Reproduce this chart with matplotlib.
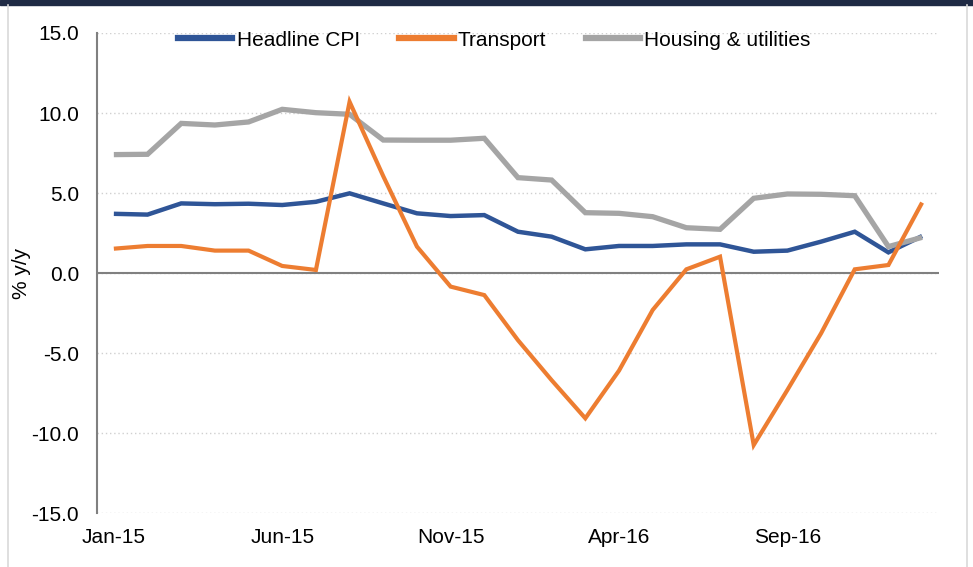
import matplotlib.pyplot as plt
import numpy as np
from matplotlib.patches import Rectangle
from matplotlib.lines import Line2D

plt.rcParams['font.family'] = ['Liberation Sans', 'DejaVu Sans']

months = ["Jan-15", "Feb-15", "Mar-15", "Apr-15", "May-15", "Jun-15", "Jul-15", "Aug-15",
          "Sep-15", "Oct-15", "Nov-15", "Dec-15", "Jan-16", "Feb-16", "Mar-16", "Apr-16",
          "May-16", "Jun-16", "Jul-16", "Aug-16", "Sep-16", "Oct-16", "Nov-16", "Dec-16",
          "Jan-17"]

headline = [3.7, 3.65, 4.35, 4.3, 4.33, 4.25, 4.45, 4.98, 4.35, 3.73, 3.56, 3.62,
            2.58, 2.27, 1.48, 1.69, 1.69, 1.79, 1.79, 1.33, 1.4, 1.96, 2.58, 1.29, 2.31]
transport = [1.52, 1.69, 1.69, 1.4, 1.4, 0.44, 0.19, 10.7, 6.05, 1.65, -0.85, -1.38,
             -4.2, -6.7, -9.08, -6.1, -2.31, 0.23, 1.02, -10.75, -7.31, -3.77, 0.23, 0.5, 4.4]
housing = [7.4, 7.42, 9.35, 9.25, 9.44, 10.23, 10.02, 9.92, 8.31, 8.3, 8.3, 8.42,
           5.96, 5.81, 3.77, 3.73, 3.52, 2.83, 2.73, 4.67, 4.94, 4.92, 4.83, 1.65, 2.23]

blue = "#2F5597"
orange = "#ED7D31"
gray = "#A5A5A5"

x = np.arange(len(months))

fig = plt.figure(figsize=(9.73, 5.67), dpi=100)
ax = fig.add_axes([0.0997, 0.0952, 0.8653, 0.8466])

ax.plot(x, headline, color=blue, lw=3.2, label="Headline CPI", zorder=3,
        solid_joinstyle="miter", solid_capstyle="butt")
ax.plot(x, housing, color=gray, lw=3.8, label="Housing & utilities", zorder=4,
        solid_joinstyle="miter", solid_capstyle="butt")
ax.plot(x, transport, color=orange, lw=3.0, label="Transport", zorder=5,
        solid_joinstyle="miter", solid_capstyle="butt")

ax.axhline(0, color="#808080", lw=1.5, zorder=2)

ax.set_xlim(-0.5, len(months) - 0.5)
ax.set_ylim(-15, 15)
ax.set_yticks(np.arange(-15, 16, 5))
ax.set_yticklabels([f"{v:.1f}" for v in np.arange(-15, 16, 5)], fontsize=15)
ax.set_xticks(x[::5])
ax.set_xticklabels(months[::5], fontsize=15)
ax.tick_params(axis="x", length=0, pad=11)
ax.tick_params(axis="y", length=0, pad=13)
ax.set_ylabel("% y/y", fontsize=15)
ax.yaxis.set_label_coords(-0.078, 0.5)

ax.grid(axis="y", linestyle=(0, (1, 2)), color="#D0D0D0", lw=1.0)
ax.set_axisbelow(True)
for s in ["top", "right", "bottom"]:
    ax.spines[s].set_visible(False)
ax.spines["left"].set_color("#808080")
ax.spines["left"].set_linewidth(1.5)

handles = [Line2D([], [], color=blue, lw=4.5),
           Line2D([], [], color=orange, lw=4.5),
           Line2D([], [], color=gray, lw=4.5)]
labels = ["Headline CPI", "Transport", "Housing & utilities"]
ax.legend(handles, labels, loc="upper center", bbox_to_anchor=(0.472, 1.035), ncol=3,
          frameon=False, fontsize=15, handlelength=2.6, handletextpad=0.2,
          columnspacing=1.9, borderpad=0.2)

# frame around the chart
fig.patches.append(Rectangle((0, 1 - 5 / 567), 1, 5 / 567, transform=fig.transFigure,
                             color="#1F2A44", zorder=0))
fig.lines.append(Line2D([8 / 973, 8 / 973], [0, 1 - 5 / 567], transform=fig.transFigure,
                        color="#D9D9D9", lw=1.2))
fig.lines.append(Line2D([967 / 973, 967 / 973], [0, 1 - 5 / 567], transform=fig.transFigure,
                        color="#D9D9D9", lw=1.2))

fig.savefig("out.png", dpi=100)
